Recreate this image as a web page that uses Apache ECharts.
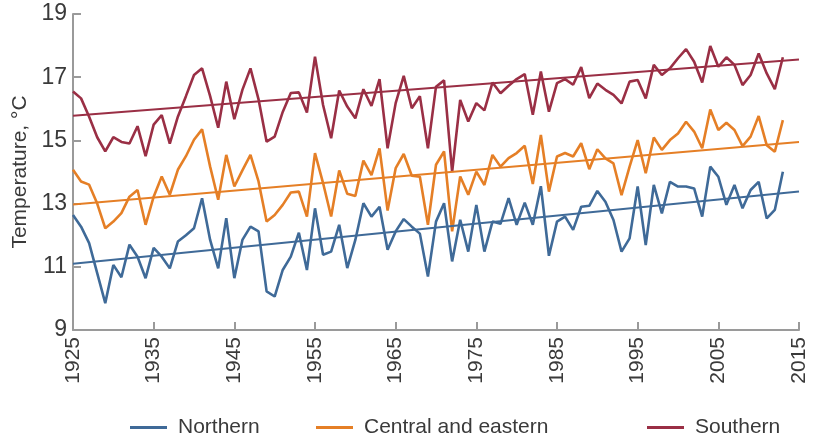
<!DOCTYPE html>
<html>
<head>
<meta charset="utf-8">
<script src="https://cdn.jsdelivr.net/npm/echarts@6/dist/echarts.min.js"></script>
<style>
html,body{margin:0;padding:0;background:#fff;}
#chart{width:816px;height:441px;}
</style>
</head>
<body>
<div id="chart"></div>
<script>
var years = [1925,1926,1927,1928,1929,1930,1931,1932,1933,1934,1935,1936,1937,1938,1939,1940,1941,1942,1943,1944,
1945,1946,1947,1948,1949,1950,1951,1952,1953,1954,1955,1956,1957,1958,1959,1960,1961,1962,1963,1964,
1965,1966,1967,1968,1969,1970,1971,1972,1973,1974,1975,1976,1977,1978,1979,1980,1981,1982,1983,1984,
1985,1986,1987,1988,1989,1990,1991,1992,1993,1994,1995,1996,1997,1998,1999,2000,2001,2002,2003,2004,
2005,2006,2007,2008,2009,2010,2011,2012,2013];

var northern = [12.64,12.27,11.75,10.8,9.85,11.06,10.67,11.7,11.32,10.64,11.6,11.32,10.95,11.8,12.0,12.22,13.17,11.85,10.95,12.54,
10.64,11.85,12.27,12.12,10.22,10.06,10.9,11.32,12.08,10.9,12.85,11.38,11.48,12.33,10.96,11.85,13.01,12.59,12.9,11.54,
12.12,12.51,12.27,12.05,10.69,12.43,13.01,11.17,12.49,11.48,12.96,11.48,12.43,12.36,13.17,12.33,13.03,12.33,13.55,11.35,
12.43,12.59,12.17,12.9,12.93,13.4,13.06,12.48,11.48,11.9,13.54,11.69,13.59,12.69,13.69,13.54,13.54,13.48,12.59,14.17,
13.85,12.96,13.59,12.85,13.43,13.69,12.53,12.8,14.01];

var central = [14.07,13.7,13.6,13.0,12.22,12.43,12.7,13.22,13.43,12.33,13.22,13.86,13.28,14.07,14.5,15.02,15.35,14.17,13.12,14.54,
13.54,14.05,14.54,13.7,12.43,12.64,12.96,13.35,13.38,12.59,14.6,13.65,12.59,14.05,13.31,13.24,14.36,13.9,14.75,12.78,
14.12,14.57,13.88,13.85,12.33,14.23,14.65,12.12,13.86,13.28,14.01,13.59,14.54,14.17,14.44,14.6,14.83,13.62,15.17,13.38,
14.49,14.6,14.49,14.91,14.09,14.72,14.43,14.27,13.27,14.17,15.01,13.96,15.09,14.7,15.01,15.22,15.59,15.28,14.75,15.98,
15.33,15.56,15.33,14.82,15.12,15.77,14.85,14.64,15.64];

var southern = [16.55,16.33,15.75,15.1,14.65,15.1,14.95,14.9,15.45,14.5,15.5,15.8,14.9,15.75,16.4,17.07,17.28,16.4,15.4,16.86,
15.67,16.6,17.28,16.3,14.96,15.12,15.9,16.5,16.52,15.88,17.65,16.12,15.07,16.58,16.07,15.7,16.62,16.09,16.94,14.75,
16.18,17.04,16.02,16.4,14.75,16.7,16.9,14.0,16.28,15.6,16.18,15.95,16.83,16.49,16.73,16.94,17.1,15.81,17.18,15.91,
16.81,16.94,16.76,17.32,16.34,16.8,16.6,16.44,16.17,16.86,16.91,16.33,17.39,17.07,17.28,17.6,17.89,17.49,16.83,17.99,
17.33,17.63,17.39,16.75,17.07,17.75,17.12,16.62,17.63];

var trendYears = [1925, 2015];
var northernTrend = [11.1, 13.38];
var centralTrend = [12.97, 14.95];
var southernTrend = [15.78, 17.56];

var seriesNames = ['Northern', 'Central and eastern', 'Southern'];
var yTicks = [9, 11, 13, 15, 17, 19];
var xTicks = [1925, 1935, 1945, 1955, 1965, 1975, 1985, 1995, 2005, 2015];

var colors = ['#3f6a98', '#e57f26', '#9a2f45'];
var FONT = '"Liberation Sans", Arial, sans-serif';
var TXT = '#3a3a3a';
var AX = '#9a9a9a';

function pairs(xs, ys) { return xs.map(function (x, i) { return [x, ys[i]]; }); }

var chart = echarts.init(document.getElementById('chart'), null, {renderer: 'canvas'});

function legendAt(name, left) {
  return {
    data: [name], left: left, top: 412, icon: 'rect', itemWidth: 37, itemHeight: 3,
    textStyle: {fontFamily: FONT, fontSize: 21, color: TXT, padding: [0, 0, 0, 6]},
    selectedMode: false
  };
}

var option = {
  animation: false,
  backgroundColor: '#fff',
  grid: {left: 73, right: 17, top: 14, bottom: 111, containLabel: false},
  legend: [legendAt(seriesNames[0], 125), legendAt(seriesNames[1], 311), legendAt(seriesNames[2], 642)],
  xAxis: {
    type: 'value', min: xTicks[0], max: xTicks[xTicks.length - 1], interval: 10,
    axisLine: {lineStyle: {color: AX, width: 2}},
    axisTick: {inside: true, length: 8, lineStyle: {color: AX, width: 2}},
    axisLabel: {rotate: 90, margin: 7, fontFamily: FONT, fontSize: 21, color: TXT,
      formatter: function (v) { return String(v); }},
    splitLine: {show: false}
  },
  yAxis: {
    type: 'value', min: yTicks[0], max: yTicks[yTicks.length - 1], interval: 2,
    name: 'Temperature, °C', nameLocation: 'middle', nameGap: 41, nameRotate: 90,
    nameTextStyle: {fontFamily: FONT, fontSize: 21, color: TXT},
    axisLine: {show: true, lineStyle: {color: AX, width: 2}},
    axisTick: {show: true, inside: true, length: 8, lineStyle: {color: AX, width: 2}},
    axisLabel: {margin: 6, fontFamily: FONT, fontSize: 23, color: TXT},
    splitLine: {show: false}
  },
  series: [
    {name: seriesNames[0], type: 'line', data: pairs(years, northern), symbol: 'none', lineStyle: {color: colors[0], width: 2.6}, itemStyle: {color: colors[0]}, z: 3},
    {name: seriesNames[1], type: 'line', data: pairs(years, central), symbol: 'none', lineStyle: {color: colors[1], width: 2.6}, itemStyle: {color: colors[1]}, z: 3},
    {name: seriesNames[2], type: 'line', data: pairs(years, southern), symbol: 'none', lineStyle: {color: colors[2], width: 2.6}, itemStyle: {color: colors[2]}, z: 3},
    {name: 'trendN', type: 'line', data: pairs(trendYears, northernTrend), symbol: 'none', lineStyle: {color: colors[0], width: 2}, z: 4},
    {name: 'trendC', type: 'line', data: pairs(trendYears, centralTrend), symbol: 'none', lineStyle: {color: colors[1], width: 2}, z: 4},
    {name: 'trendS', type: 'line', data: pairs(trendYears, southernTrend), symbol: 'none', lineStyle: {color: colors[2], width: 2}, z: 4}
  ]
};
chart.setOption(option);
</script>
</body>
</html>
